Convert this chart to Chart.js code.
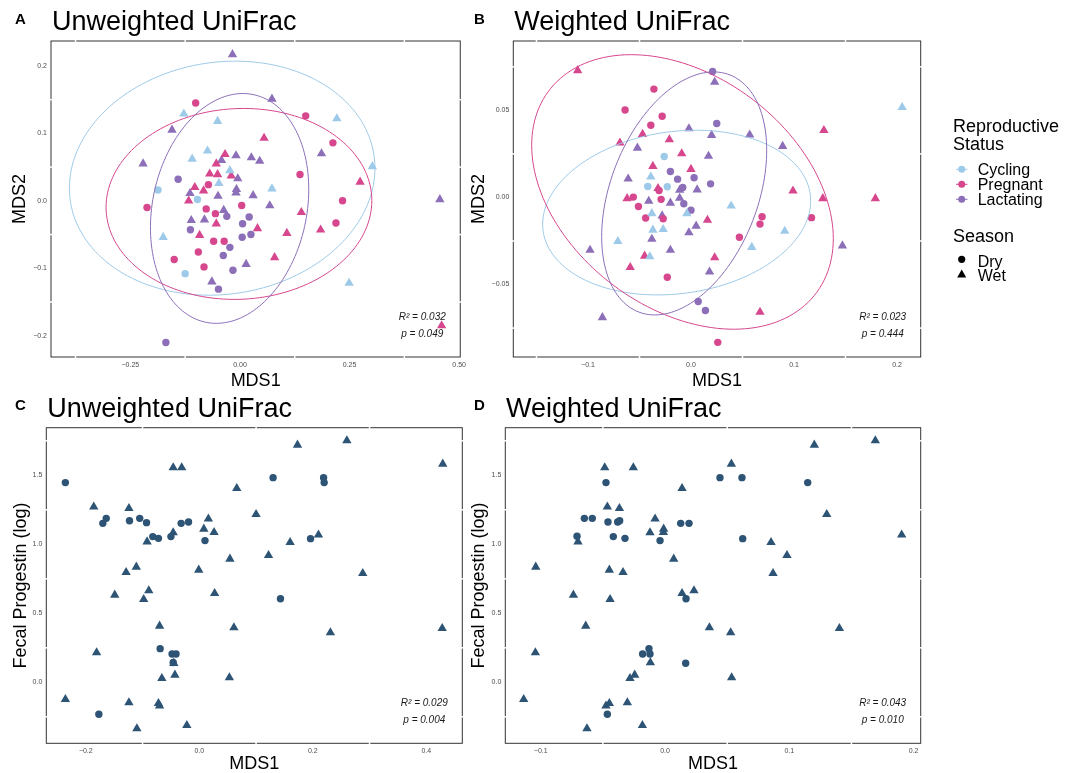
<!DOCTYPE html>
<html>
<head>
<meta charset="utf-8">
<script src="https://cdn.jsdelivr.net/npm/chart.js@4.4.0/dist/chart.umd.min.js"></script>
<style>
  body { margin: 0; background: #fff; width: 1073px; height: 773px; position: relative; overflow: hidden; }
  canvas { position: absolute; }
</style>
</head>
<body>
<canvas id="pA" width="470" height="395" style="left:0;top:0"></canvas>
<canvas id="pB" width="603" height="395" style="left:470px;top:0"></canvas>
<canvas id="pC" width="470" height="388" style="left:0;top:385px"></canvas>
<canvas id="pD" width="460" height="388" style="left:470px;top:385px"></canvas>
<script>
const FONT = '"Liberation Sans", Arial, sans-serif';

// ---- panel A: unweighted UniFrac, [MDS1, MDS2]
const unwCycDry = [[-0.187,0.016],[-0.097,0.002],[-0.125,-0.108]];
const unwCycWet = [[-0.128,0.129],[-0.051,0.118],[0.221,0.122],[-0.074,0.074],[-0.109,0.062],[-0.023,0.045],[-0.048,0.026],[0.073,0.018],[0.302,0.051],[-0.175,-0.054],[0.249,-0.122]];
const unwPregDry = [[-0.101,0.145],[0.150,0.126],[0.212,0.086],[0.137,0.039],[-0.072,0.024],[-0.212,-0.010],[0.234,0.000],[-0.077,-0.012],[-0.056,-0.019],[0.004,-0.007],[0.219,-0.033],[-0.060,-0.060],[-0.036,-0.060],[-0.095,-0.076],[-0.150,-0.087],[-0.082,-0.098]];
const unwPregWet = [[0.055,0.093],[-0.034,0.069],[-0.054,0.055],[-0.069,0.040],[-0.051,0.039],[-0.020,0.037],[-0.103,0.020],[-0.083,0.015],[-0.117,0.000],[-0.054,-0.034],[0.040,-0.041],[0.140,-0.017],[0.274,0.028],[-0.092,-0.051],[0.107,-0.048],[0.184,-0.043],[0.079,-0.084],[0.460,-0.185]];
const unwLacDry = [[-0.141,0.032],[-0.030,-0.023],[0.006,-0.034],[0.021,-0.024],[-0.113,-0.043],[0.005,-0.054],[0.025,-0.050],[-0.023,-0.069],[-0.038,-0.081],[-0.016,-0.103],[-0.049,-0.131],[-0.169,-0.210]];
const unwLacWet = [[-0.017,0.217],[0.073,0.151],[-0.155,0.105],[-0.221,0.055],[-0.009,0.067],[0.026,0.064],[0.045,0.059],[0.186,0.070],[-0.042,0.060],[-0.005,0.033],[-0.008,0.017],[-0.009,0.012],[-0.114,0.011],[-0.050,0.007],[0.030,0.008],[0.068,-0.007],[-0.037,-0.014],[-0.111,-0.029],[-0.081,-0.028],[0.014,-0.094],[-0.064,-0.120],[0.456,0.002]];
// ellipses: centre x, centre y, first semi-axis (x, y), conjugate semi-axis (x, y)
const unwEllCyc = [-0.0406, 0.0336, 0.3485, 0.0148, 0, 0.1729];
const unwEllPreg = [-0.0023, -0.0046, 0.3031, 0.0049, 0, 0.1415];
const unwEllLac = [-0.0236, -0.0113, 0.178, 0, 0.0302, 0.1704];
const unwXTicks = [-0.25, 0, 0.25, 0.5];
const unwXLabels = ['\u22120.25', '0.00', '0.25', '0.50'];
const unwYTicks = [-0.2, -0.1, 0, 0.1, 0.2];
const unwYLabels = ['\u22120.2', '\u22120.1', '0.0', '0.1', '0.2'];

// ---- panel B: weighted UniFrac
const wCycDry = [[-0.026,0.0235],[-0.042,0.0063],[-0.023,0.0061]];
const wCycWet = [[-0.039,0.0118],[-0.038,-0.0092],[-0.037,-0.0187],[-0.027,-0.0183],[-0.004,-0.0092],[0.039,-0.0048],[-0.071,-0.0252],[-0.040,-0.0340],[0.059,-0.0286],[0.091,-0.0193],[0.205,0.0517]];
const wPregDry = [[-0.036,0.0622],[-0.064,0.0502],[-0.028,0.0466],[-0.039,0.0414],[-0.031,0.0040],[-0.056,0.0002],[-0.029,-0.0011],[-0.051,-0.0052],[-0.044,-0.0118],[-0.027,-0.0122],[0.069,-0.0111],[0.067,-0.0153],[0.117,-0.0116],[0.047,-0.0229],[-0.023,-0.0458],[0.026,-0.0832]];
const wPregWet = [[-0.110,0.0729],[-0.069,0.0313],[-0.047,0.0363],[-0.021,0.0332],[-0.009,0.0252],[-0.037,0.0179],[0.000,0.0162],[-0.032,0.0052],[-0.062,-0.0006],[0.016,-0.0130],[-0.045,-0.0336],[-0.059,-0.0401],[0.023,-0.0345],[0.067,-0.0658],[0.099,0.0038],[0.128,-0.0006],[0.129,0.0385],[0.179,-0.0006]];
const wLacDry = [[0.021,0.0723],[0.025,0.0424],[-0.020,0.0149],[-0.013,0.0105],[0.003,0.0113],[-0.008,0.0057],[0.019,0.0078],[-0.007,-0.0036],[0.000,-0.0073],[0.007,-0.0597],[0.014,-0.0649]];
const wLacWet = [[0.023,0.0662],[-0.002,0.0395],[0.020,0.0357],[0.057,0.0359],[0.089,0.0294],[-0.052,0.0284],[0.017,0.0237],[-0.061,0.0107],[0.006,0.0044],[-0.011,0.0042],[-0.041,-0.0021],[-0.020,-0.0032],[-0.011,-0.0004],[-0.028,-0.0105],[0.005,-0.0164],[-0.002,-0.0202],[-0.038,-0.0239],[-0.020,-0.0302],[0.018,-0.0427],[-0.098,-0.0302],[-0.086,-0.0689],[0.147,-0.0277]];
const wEllCyc = [-0.0139, -0.0087, 0.1301, 0.0067, 0, 0.0468];
const wEllPreg = [-0.00825, 0.00315, 0.1464, -0.0268, 0, 0.0741];
const wEllLac = [-0.0066, 0.0023, 0.0801, 0.0248, 0, 0.0652];
const wXTicks = [-0.1, 0, 0.1, 0.2];
const wXLabels = ['\u22120.1', '0.0', '0.1', '0.2'];
const wYTicks = [-0.05, 0, 0.05];
const wYLabels = ['\u22120.05', '0.00', '0.05'];

// ---- panels C / D: MDS1 vs fecal progestin (log)
const progUnwDry = [[-0.236,1.447],[-0.170,1.152],[-0.164,1.188],[-0.123,1.171],[-0.105,1.188],[-0.093,1.157],[-0.082,1.056],[-0.072,1.043],[-0.050,1.056],[-0.032,1.152],[-0.019,1.162],[0.010,1.027],[0.130,1.483],[0.219,1.483],[0.220,1.447],[0.196,1.041],[0.143,0.606],[-0.069,0.244],[-0.048,0.205],[-0.041,0.205],[-0.046,0.143],[-0.177,-0.232]];
const progUnwWet = [[-0.186,1.271],[-0.124,1.261],[-0.046,1.556],[-0.031,1.556],[0.066,1.406],[0.173,1.720],[0.260,1.751],[0.429,1.582],[-0.046,1.085],[-0.092,1.019],[0.016,1.184],[0.008,1.111],[0.026,1.087],[0.100,1.217],[0.160,1.014],[0.210,1.068],[0.122,0.920],[0.054,0.894],[-0.001,0.814],[-0.111,0.836],[-0.129,0.797],[-0.149,0.633],[-0.089,0.664],[-0.098,0.601],[0.027,0.645],[0.288,0.790],[-0.070,0.408],[0.061,0.396],[0.231,0.360],[0.428,0.391],[-0.181,0.215],[-0.066,0.029],[-0.043,0.053],[0.053,0.034],[-0.236,-0.123],[-0.124,-0.147],[-0.072,-0.152],[-0.070,-0.171],[-0.110,-0.336],[-0.022,-0.312],[-0.045,0.138]];
const progWDry = [[-0.0475,1.447],[0.0442,1.483],[0.0619,1.483],[0.1148,1.447],[-0.0649,1.188],[-0.0585,1.188],[-0.0459,1.162],[-0.0381,1.162],[-0.0365,1.171],[-0.0708,1.058],[-0.0416,1.056],[-0.0322,1.043],[-0.0040,1.027],[0.0126,1.152],[0.0193,1.152],[0.0625,1.041],[0.0169,0.606],[-0.0129,0.244],[-0.0180,0.205],[-0.0121,0.205],[0.0166,0.138],[-0.0464,-0.232]];
const progWWet = [[-0.0485,1.556],[-0.0255,1.556],[0.0534,1.582],[0.0137,1.406],[0.1201,1.720],[0.1692,1.751],[0.1301,1.217],[0.1904,1.068],[-0.0464,1.271],[-0.0367,1.261],[-0.0080,1.184],[-0.0011,1.111],[-0.0013,1.087],[-0.0121,1.085],[-0.0700,1.019],[0.0853,1.014],[0.0981,0.920],[0.0070,0.894],[-0.1040,0.836],[-0.0448,0.814],[-0.0338,0.797],[0.0869,0.790],[-0.0737,0.633],[0.0137,0.645],[0.0233,0.664],[-0.0442,0.601],[-0.0638,0.408],[0.0357,0.396],[0.0528,0.360],[0.1403,0.391],[-0.1043,0.215],[-0.0118,0.143],[-0.0282,0.029],[-0.0244,0.053],[0.0536,0.034],[-0.1137,-0.123],[-0.0475,-0.171],[-0.0448,-0.152],[-0.0303,-0.147],[-0.0628,-0.336],[-0.0182,-0.312]];
const progUnwXTicks = [-0.2, 0, 0.2, 0.4];
const progUnwXLabels = ['\u22120.2', '0.0', '0.2', '0.4'];
const progWXTicks = [-0.1, 0, 0.1, 0.2];
const progWXLabels = ['\u22120.1', '0.0', '0.1', '0.2'];
const progYTicks = [0, 0.5, 1, 1.5];
const progYLabels = ['0.0', '0.5', '1.0', '1.5'];

const statusNames = ['Cycling', 'Pregnant', 'Lactating'];
const seasonNames = ['Dry', 'Wet'];

const COL = { cyc: '#9ecae9', preg: '#d6478e', lac: '#8c6fb8', prog: '#2d5375' };

function ds(pts, color, wet) {
  return {
    data: pts.map(([x, y]) => ({ x, y })),
    pointStyle: wet ? 'triangle' : 'circle',
    pointRadius: wet ? 5.4 : 3.7,
    pointHoverRadius: wet ? 5.4 : 3.7,
    backgroundColor: color,
    borderWidth: 0
  };
}

function minors(ticks, min, max) {
  const step = ticks[1] - ticks[0];
  const out = [];
  for (let v = ticks[0] - step / 2; v <= max; v += step) {
    if (v >= min) out.push(v);
  }
  return out;
}

function decor(p) {
  return {
    id: 'decor',
    afterDatasetsDraw(chart) {
      const { ctx, chartArea: a } = chart;
      const x = chart.scales.x, y = chart.scales.y;
      ctx.save();
      ctx.beginPath();
      ctx.rect(a.left, a.top, a.right - a.left, a.bottom - a.top);
      ctx.clip();
      (p.ellipses || []).forEach(e => {
        const [cx, cy, px, py, qx, qy] = e.v;
        ctx.beginPath();
        for (let i = 0; i <= 160; i++) {
          const t = i / 160 * 2 * Math.PI;
          const X = x.getPixelForValue(cx + px * Math.cos(t) + qx * Math.sin(t));
          const Y = y.getPixelForValue(cy + py * Math.cos(t) + qy * Math.sin(t));
          if (i) ctx.lineTo(X, Y); else ctx.moveTo(X, Y);
        }
        ctx.strokeStyle = e.color;
        ctx.lineWidth = 1;
        ctx.stroke();
      });
      ctx.restore();

      // panel border with the white minor grid breaks
      ctx.save();
      ctx.strokeStyle = '#333';
      ctx.lineWidth = 1;
      ctx.strokeRect(a.left, a.top, a.right - a.left, a.bottom - a.top);
      ctx.strokeStyle = '#fff';
      ctx.lineWidth = 1.5;
      const seg = (x1, y1, x2, y2) => { ctx.beginPath(); ctx.moveTo(x1, y1); ctx.lineTo(x2, y2); ctx.stroke(); };
      minors(p.xTicks, p.xMin, p.xMax).forEach(v => {
        const X = x.getPixelForValue(v);
        seg(X, a.top - 1.5, X, a.top + 1.5);
        seg(X, a.bottom - 1.5, X, a.bottom + 1.5);
      });
      minors(p.yTicks, p.yMin, p.yMax).forEach(v => {
        const Y = y.getPixelForValue(v);
        seg(a.left - 1.5, Y, a.left + 1.5, Y);
        seg(a.right - 1.5, Y, a.right + 1.5, Y);
      });
      ctx.restore();
    },
    afterDraw(chart) {
      const { ctx, chartArea: a } = chart;
      ctx.save();
      ctx.fillStyle = '#000';
      ctx.textBaseline = 'alphabetic';
      ctx.textAlign = 'left';
      ctx.font = 'bold 15px ' + FONT;
      ctx.fillText(p.letter, p.letterX, p.letterY);
      ctx.font = '27px ' + FONT;
      ctx.fillText(p.title, p.titleX, p.titleY);

      ctx.fillStyle = '#1a1a1a';
      ctx.font = 'italic 10px ' + FONT;
      ctx.textAlign = 'center';
      ctx.textBaseline = 'middle';
      ctx.fillText(p.stats[0], a.right - 38, a.bottom - 40);
      ctx.fillText(p.stats[1], a.right - 38, a.bottom - 23);

      if (p.legend) {
        const lx = 483;
        ctx.textAlign = 'left';
        ctx.textBaseline = 'alphabetic';
        ctx.fillStyle = '#000';
        ctx.font = '18px ' + FONT;
        ctx.fillText('Reproductive', lx, 131.7);
        ctx.fillText('Status', lx, 150);
        ctx.fillText('Season', lx, 241.7);
        ctx.font = '16px ' + FONT;
        const cols = [COL.cyc, COL.preg, COL.lac];
        statusNames.forEach((s, i) => {
          const ky = 169.3 + i * 15;
          ctx.strokeStyle = cols[i];
          ctx.lineWidth = 1;
          ctx.beginPath(); ctx.moveTo(486, ky); ctx.lineTo(497.5, ky); ctx.stroke();
          ctx.fillStyle = cols[i];
          ctx.beginPath(); ctx.arc(491.7, ky, 3.5, 0, Math.PI * 2); ctx.fill();
          ctx.fillStyle = '#000';
          ctx.fillText(s, 507.7, ky + 5.7);
        });
        ctx.fillStyle = '#000';
        ctx.beginPath(); ctx.arc(491.7, 259.3, 3.6, 0, Math.PI * 2); ctx.fill();
        ctx.fillText(seasonNames[0], 507.7, 266.7);
        const r = 5.2, ty = 274.8;
        ctx.beginPath();
        ctx.moveTo(491.7, ty - r);
        ctx.lineTo(491.7 + r * 0.866, ty + r / 2);
        ctx.lineTo(491.7 - r * 0.866, ty + r / 2);
        ctx.closePath(); ctx.fill();
        ctx.fillText(seasonNames[1], 507.7, 280.5);
      }
      ctx.restore();
    }
  };
}

function axis(min, max, ticks, labels, title, titlePad, size, horiz) {
  return {
    type: 'linear',
    min: min,
    max: max,
    grid: { display: false, drawTicks: false },
    border: { display: false },
    afterBuildTicks: s => { s.ticks = ticks.map(v => ({ value: v })); },
    afterFit: s => { if (horiz) s.height = size; else s.width = size; },
    ticks: {
      autoSkip: false, maxRotation: 0, padding: 4, color: '#4d4d4d',
      font: { family: FONT, size: 7 },
      callback: (v, i) => labels[i]
    },
    title: {
      display: true, text: title, color: '#000',
      font: { family: FONT, size: 18, lineHeight: 1 },
      padding: horiz ? { top: 0, bottom: titlePad } : { top: titlePad, bottom: 0 }
    }
  };
}

function makePanel(id, p) {
  new Chart(document.getElementById(id), {
    type: 'scatter',
    data: { datasets: p.datasets },
    options: {
      responsive: false,
      animation: false,
      events: [],
      layout: { padding: p.pad },
      plugins: { legend: { display: false }, tooltip: { enabled: false } },
      scales: {
        x: axis(p.xMin, p.xMax, p.xTicks, p.xLabels, 'MDS1', p.xTitlePad, p.xh, true),
        y: axis(p.yMin, p.yMax, p.yTicks, p.yLabels, p.yTitle, p.yTitlePad, p.yw, false)
      }
    },
    plugins: [decor(p)]
  });
}

makePanel('pA', {
  letter: 'A', letterX: 15, letterY: 24, title: 'Unweighted UniFrac', titleX: 52, titleY: 29.5,
  datasets: [
    ds(unwCycDry, COL.cyc, false), ds(unwCycWet, COL.cyc, true),
    ds(unwPregDry, COL.preg, false), ds(unwPregWet, COL.preg, true),
    ds(unwLacDry, COL.lac, false), ds(unwLacWet, COL.lac, true)
  ],
  ellipses: [{ v: unwEllCyc, color: COL.cyc }, { v: unwEllPreg, color: COL.preg }, { v: unwEllLac, color: COL.lac }],
  stats: ['R\u00b2 = 0.032', 'p = 0.049'],
  xMin: -0.431, xMax: 0.5025, xTicks: unwXTicks, xLabels: unwXLabels,
  yMin: -0.2316, yMax: 0.237, yTicks: unwYTicks, yLabels: unwYLabels,
  yTitle: 'MDS2', pad: { left: 0, top: 41, right: 8, bottom: 0 },
  xh: 38, yw: 51, xTitlePad: 5, yTitlePad: 11.5
});

makePanel('pB', {
  letter: 'B', letterX: 4, letterY: 24, title: 'Weighted UniFrac', titleX: 44.3, titleY: 29.5,
  datasets: [
    ds(wCycDry, COL.cyc, false), ds(wCycWet, COL.cyc, true),
    ds(wPregDry, COL.preg, false), ds(wPregWet, COL.preg, true),
    ds(wLacDry, COL.lac, false), ds(wLacWet, COL.lac, true)
  ],
  ellipses: [{ v: wEllCyc, color: COL.cyc }, { v: wEllPreg, color: COL.preg }, { v: wEllLac, color: COL.lac }],
  stats: ['R\u00b2 = 0.023', 'p = 0.444'],
  xMin: -0.1725, xMax: 0.223, xTicks: wXTicks, xLabels: wXLabels,
  yMin: -0.0916, yMax: 0.0898, yTicks: wYTicks, yLabels: wYLabels,
  yTitle: 'MDS2', pad: { left: 0, top: 41, right: 152.3, bottom: 0 },
  xh: 38, yw: 43.3, xTitlePad: 5, yTitlePad: 0, legend: true
});

makePanel('pC', {
  letter: 'C', letterX: 15, letterY: 25, title: 'Unweighted UniFrac', titleX: 47.3, titleY: 31.7,
  datasets: [ds(progUnwDry, COL.prog, false), ds(progUnwWet, COL.prog, true)],
  stats: ['R\u00b2 = 0.029', 'p = 0.004'],
  xMin: -0.2696, xMax: 0.4634, xTicks: progUnwXTicks, xLabels: progUnwXLabels,
  yMin: -0.442, yMax: 1.845, yTicks: progYTicks, yLabels: progYLabels,
  yTitle: 'Fecal Progestin (log)', pad: { left: 0, top: 42.7, right: 7.7, bottom: 0 },
  xh: 29.7, yw: 46.3, xTitlePad: 0, yTitlePad: 12
});

makePanel('pD', {
  letter: 'D', letterX: 4, letterY: 25, title: 'Weighted UniFrac', titleX: 36, titleY: 31.7,
  datasets: [ds(progWDry, COL.prog, false), ds(progWWet, COL.prog, true)],
  stats: ['R\u00b2 = 0.043', 'p = 0.010'],
  xMin: -0.1285, xMax: 0.2057, xTicks: progWXTicks, xLabels: progWXLabels,
  yMin: -0.442, yMax: 1.845, yTicks: progYTicks, yLabels: progYLabels,
  yTitle: 'Fecal Progestin (log)', pad: { left: 0, top: 42.7, right: 9.3, bottom: 0 },
  xh: 29.7, yw: 35.3, xTitlePad: 0, yTitlePad: 0
});
</script>
</body>
</html>
